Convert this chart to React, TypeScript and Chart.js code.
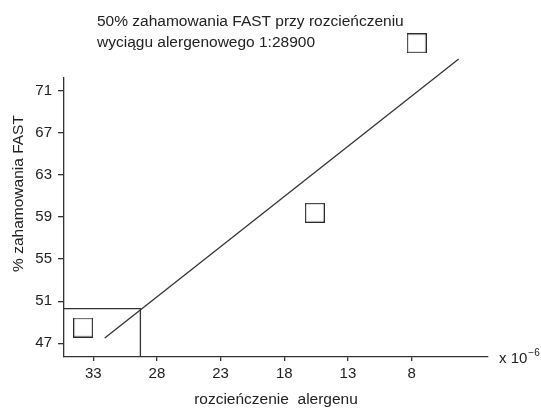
import { useEffect, useRef } from "react";
import { Chart, registerables } from "chart.js";

Chart.register(...registerables);

// ---- data ----
const xTicks = [33, 28, 23, 18, 13, 8];
const yTicks = [47, 51, 55, 59, 63, 67, 71];
const xMin = 2.0;
const xMax = 35.3;
const yMin = 45.7;
const yMax = 72.2;
const pointX = [33.8, 15.6, 7.6];
const pointY = [48.5, 59.4, 75.5];
const fitX = [32.1, 4.3];
const fitY = [47.5, 74.0];
const dilution50 = 29.3;
const inhibition50 = 50.3;
const titleLines = [
  "50% zahamowania FAST przy rozcieńczeniu",
  "wyciągu alergenowego 1:28900",
];
const xTitle = "rozcieńczenie  alergenu";
const yTitle = "% zahamowania FAST";
const xUnit = "x 10";
const xUnitExp = "−6";

const FONT = "'Liberation Sans', Arial, sans-serif";
const TEXT = "#222";
const LINE = "#333";

function makeSquare(): HTMLCanvasElement {
  const c = document.createElement("canvas");
  c.width = 20;
  c.height = 20;
  const g = c.getContext("2d")!;
  g.strokeStyle = "#2a2a2a";
  g.lineWidth = 1.2;
  g.strokeRect(0.6, 0.6, 18.8, 18.8);
  return c;
}

const textPlugin = {
  id: "customTexts",
  afterDraw(chart: any) {
    const ctx = chart.ctx;
    ctx.save();
    ctx.fillStyle = TEXT;
    ctx.textBaseline = "alphabetic";
    ctx.textAlign = "left";
    ctx.font = `15.5px ${FONT}`;
    ctx.fillText(titleLines[0], 97, 26);
    ctx.fillText(titleLines[1], 97, 47);

    // unit label
    const ay = chart.chartArea.bottom;
    ctx.font = `15px ${FONT}`;
    ctx.fillText(xUnit, 499, ay + 6);
    const w = ctx.measureText(xUnit).width;
    ctx.font = `10px ${FONT}`;
    ctx.fillText(xUnitExp, 499 + w + 1, ay - 1);

    // y title
    ctx.translate(18.5, 193.5);
    ctx.rotate(-Math.PI / 2);
    ctx.textAlign = "center";
    ctx.textBaseline = "middle";
    ctx.font = `15.5px ${FONT}`;
    ctx.fillText(yTitle, 0, 0);
    ctx.restore();
  },
};

export default function App() {
  const ref = useRef<HTMLCanvasElement>(null);

  useEffect(() => {
    if (!ref.current) return;
    const square = makeSquare();
    const chart = new Chart(ref.current, {
      type: "scatter",
      data: {
        datasets: [
          {
            label: "pomiary",
            data: pointX.map((x, i) => ({ x, y: pointY[i] })),
            showLine: false,
            pointStyle: square,
            pointRadius: 45,
            pointBorderWidth: 0,
            clip: false,
          } as any,
          {
            label: "regresja",
            data: fitX.map((x, i) => ({ x, y: fitY[i] })),
            showLine: true,
            pointRadius: 0,
            borderColor: LINE,
            borderWidth: 1.3,
            clip: false,
          } as any,
          {
            label: "50%",
            data: [
              { x: xMax, y: inhibition50 },
              { x: dilution50, y: inhibition50 },
              { x: dilution50, y: yMin },
            ],
            showLine: true,
            pointRadius: 0,
            borderColor: LINE,
            borderWidth: 1.3,
          } as any,
        ],
      },
      options: {
        responsive: false,
        devicePixelRatio: 1,
        animation: false,
        layout: { padding: { top: 78, right: 53, left: 0, bottom: 0 } },
        plugins: {
          legend: { display: false },
          tooltip: { enabled: false },
          title: { display: false },
        },
        scales: {
          x: {
            type: "linear",
            reverse: true,
            min: xMin,
            max: xMax,
            afterBuildTicks: (s: any) => {
              s.ticks = xTicks.map((v) => ({ value: v }));
            },
            afterFit: (s: any) => {
              s.height = 52;
            },
            ticks: {
              color: TEXT,
              font: { family: FONT, size: 15 },
              padding: 4,
              autoSkip: false,
              maxRotation: 0,
            },
            grid: {
              drawOnChartArea: false,
              drawTicks: true,
              tickLength: 4,
              color: LINE,
              lineWidth: 1.3,
            },
            border: { color: LINE, width: 1.3 },
            title: {
              display: true,
              text: xTitle,
              color: TEXT,
              font: { family: FONT, size: 15.5 },
              padding: { top: 0, bottom: 0 },
            },
          },
          y: {
            type: "linear",
            min: yMin,
            max: yMax,
            afterBuildTicks: (s: any) => {
              s.ticks = yTicks.map((v) => ({ value: v }));
            },
            afterFit: (s: any) => {
              s.width = 64;
            },
            ticks: {
              color: TEXT,
              font: { family: FONT, size: 15 },
              padding: 6,
              autoSkip: false,
            },
            grid: {
              drawOnChartArea: false,
              drawTicks: true,
              tickLength: 6,
              color: LINE,
              lineWidth: 1.3,
            },
            border: { color: LINE, width: 1.3 },
          },
        },
      } as any,
      plugins: [textPlugin],
    });
    return () => chart.destroy();
  }, []);

  return (
    <div style={{ position: "absolute", left: 0, top: 0, width: 541, height: 409, background: "#fff" }}>
      <canvas ref={ref} width={541} height={409} style={{ display: "block" }} />
    </div>
  );
}
